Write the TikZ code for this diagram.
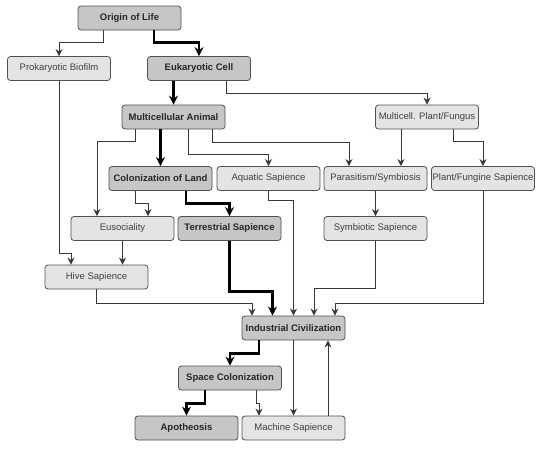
\documentclass[tikz,border=0pt]{standalone}
\usepackage{fontspec}
\setmainfont{Liberation Sans}
\usetikzlibrary{arrows.meta}
\definecolor{darkbox}{HTML}{C6C6C6}
\definecolor{lightbox}{HTML}{E4E4E4}
\definecolor{boxline}{HTML}{505050}
\definecolor{linkgray}{HTML}{383838}

\tikzset{
  box/.style={draw=boxline,line width=0.8pt,rounded corners=3pt,minimum width=103pt,
    minimum height=24pt,inner sep=1pt,font=\fontsize{9.5}{11}\selectfont},
  mainbox/.style={box,fill=darkbox,font=\fontsize{9.5}{11}\selectfont\bfseries,text=black!85},
  sidebox/.style={box,fill=lightbox,text=black!75},
  link/.style={draw=linkgray,line width=0.9pt,-{Stealth[length=7pt,width=7pt]}},
  mainlink/.style={draw=black,line width=2.2pt,-{Stealth[length=9pt,width=9pt]}}
}

\begin{document}
\begin{tikzpicture}[x=1pt,y=-1pt]
\useasboundingbox (0,0) rectangle (540,448);
% boxes
\node[mainbox] (orig) at (129.5,18) {Origin of Life};
\node[sidebox] (prok) at (59,68.5) {Prokaryotic Biofilm};
\node[mainbox] (euk) at (199,68.5) {Eukaryotic Cell};
\node[mainbox] (mani) at (173.5,117) {Multicellular Animal};
\node[sidebox] (mplant) at (427,117) {Multicell. Plant/Fungus};
\node[mainbox] (col) at (160.5,178.5) {Colonization of Land};
\node[sidebox] (aqua) at (268.5,178.5) {Aquatic Sapience};
\node[sidebox] (paras) at (375.5,178.5) {Parasitism/Symbiosis};
\node[sidebox] (pfs) at (483,178.5) {Plant/Fungine Sapience};
\node[sidebox] (euso) at (122.5,228.5) {Eusociality};
\node[mainbox] (terr) at (229.5,228.5) {Terrestrial Sapience};
\node[sidebox] (symb) at (375.5,228.5) {Symbiotic Sapience};
\node[sidebox] (hive) at (96.5,277) {Hive Sapience};
\node[mainbox] (ind) at (293.5,328) {Industrial Civilization};
\node[mainbox] (space) at (230,378) {Space Colonization};
\node[mainbox] (apo) at (186.5,428) {Apotheosis};
\node[sidebox] (mach) at (293.5,428) {Machine Sapience};
% main line
\draw[mainlink] ([xshift=24.5]orig.south) -- ++(0,12) -| (euk);
\draw[mainlink] (euk.south -| mani) -- (mani);
\draw[mainlink] (mani.south -| col) -- (col);
\draw[mainlink] ([xshift=25.5]col.south) -- ++(0,12.5) -| (terr);
\draw[mainlink] (terr.south) -- ++(0,50.5) -| ([xshift=-21]ind.north);
\draw[mainlink] ([xshift=-34.5]ind.south) -- ++(0,13) -| (space);
\draw[mainlink] ([xshift=-25]space.south) -- ++(0,13) -| (apo);
% side lines
\draw[link] ([xshift=-26.5]orig.south) -- ++(0,12) -| (prok);
\draw[link] ([xshift=27]euk.south) -- ++(0,12.5) -| (mplant);
\draw[link] (prok.south) -- ++(0,172.5) -| ([xshift=-25.5]hive.north);
\draw[link] ([xshift=-38.5]mani.south) -- ++(0,12) -| ([xshift=-25.5]euso.north);
\draw[link] ([xshift=14.5]mani.south) -- ++(0,25) -| (aqua);
\draw[link] ([xshift=38.5]mani.south) -- ++(0,13) -| ([xshift=-26.5]paras.north);
\draw[link] ([xshift=-26]mplant.south) -- ([xshift=25.5]paras.north);
\draw[link] ([xshift=26]mplant.south) -- ++(0,12) -| (pfs);
\draw[link] (paras) -- (symb);
\draw[link] ([xshift=-25.5]col.south) -- ++(0,12.5) -| ([xshift=25.5]euso.north);
\draw[link] (euso.south) -- ([xshift=26]hive.north);
\draw[link] (aqua.south) -- ++(0,9.5) -| (ind);
\draw[link] (symb.south) -- ++(0,48) -| ([xshift=20.5]ind.north);
\draw[link] (pfs.south) -- ++(0,113) -| ([xshift=41.5]ind.north);
\draw[link] (hive.south) -- ++(0,14) -| ([xshift=-41.5]ind.north);
\draw[link] (ind.south) -- (mach.north);
\draw[link] ([xshift=34.5]mach.north) -- ([xshift=34.5]ind.south);
\draw[link] ([xshift=26]space.south) -- ++(0,13) -| ([xshift=-34.5]mach.north);
\end{tikzpicture}
\end{document}
